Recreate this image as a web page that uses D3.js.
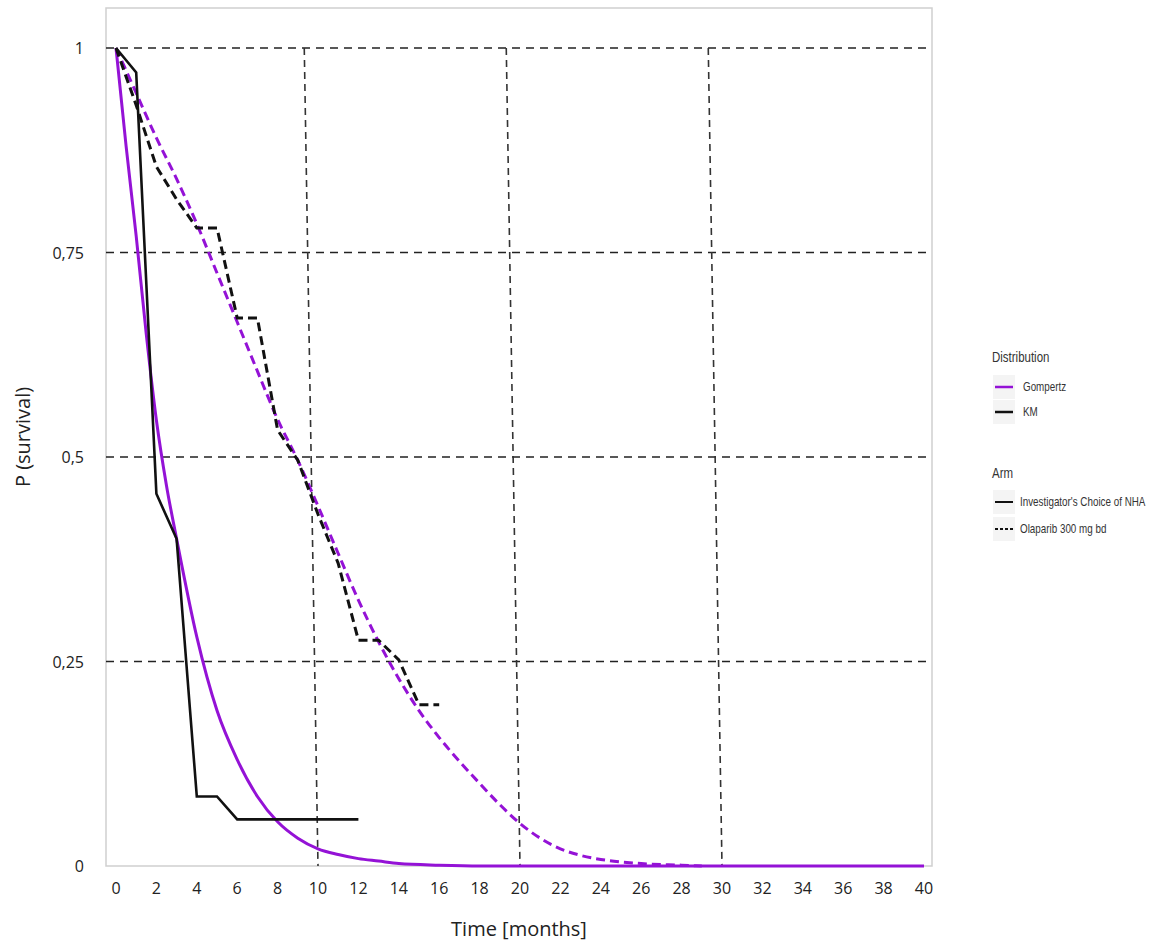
<!DOCTYPE html>
<html>
<head>
<meta charset="utf-8">
<script src="https://cdn.jsdelivr.net/npm/d3@7"></script>
<style>
  html, body { margin: 0; padding: 0; background: #fff; }
  svg { display: block; }
</style>
</head>
<body>
<svg id="chart" width="1156" height="945"></svg>
<script>
// ---- data ----
const xTicks = d3.range(0, 41, 2);
const yTicks = [0, 0.25, 0.5, 0.75, 1];
const yTickLabels = ["0", "0,25", "0,5", "0,75", "1"];
const vGrid = [10, 20, 30];

// KM, Investigator's Choice of NHA (solid black)
const kmControlT = [0, 1, 2, 3, 4, 5, 6, 12];
const kmControlS = [1, 0.97, 0.455, 0.40, 0.085, 0.085, 0.057, 0.057];

// KM, Olaparib 300 mg bd (dashed black)
const kmOlaT = [0, 1, 2, 3, 4, 5, 6, 7, 8, 9, 10, 11, 12, 13, 14, 15, 16];
const kmOlaS = [1, 0.93, 0.855, 0.815, 0.78, 0.78, 0.67, 0.67, 0.533, 0.496, 0.43, 0.37, 0.276, 0.276, 0.252, 0.197, 0.197];

// Gompertz, Investigator's Choice of NHA (solid purple)
const gompControlT = [0, 0.5, 1, 1.5, 2, 2.5, 3, 4, 5, 6, 7, 8, 9, 10, 11, 12, 13, 14, 16, 18, 40];
const gompControlS = [1, 0.88, 0.77, 0.65, 0.545, 0.465, 0.40, 0.28, 0.19, 0.13, 0.085, 0.054, 0.034, 0.021, 0.014, 0.009, 0.006, 0.003, 0.001, 0, 0];

// Gompertz, Olaparib 300 mg bd (dashed purple)
const gompOlaT = [0, 1, 2, 3, 4, 5, 6, 7, 8, 9, 10, 11, 12, 13, 14, 15, 16, 17, 18, 19, 20, 21, 22, 23, 24, 25, 26, 28, 29];
const gompOlaS = [1, 0.945, 0.89, 0.84, 0.785, 0.725, 0.665, 0.605, 0.546, 0.496, 0.44, 0.382, 0.325, 0.274, 0.229, 0.19, 0.157, 0.128, 0.101, 0.075, 0.052, 0.034, 0.021, 0.013, 0.008, 0.005, 0.003, 0.001, 0];

const legendDist = ["Gompertz", "KM"];
const legendArm = ["Investigator's Choice of NHA", "Olaparib 300 mg bd"];

// ---- layout ----
const panel = { left: 106, top: 8, right: 932, bottom: 866 };
const svg = d3.select("#chart");
const x = d3.scaleLinear().domain([0, 40]).range([116, 924]);
const y = d3.scaleLinear().domain([0, 1]).range([866, 48]);
const purple = "#9412d6";
const font = "'Open Sans', 'DejaVu Sans', sans-serif";

// panel border
svg.append("rect")
  .attr("x", panel.left).attr("y", panel.top)
  .attr("width", panel.right - panel.left).attr("height", panel.bottom - panel.top)
  .attr("fill", "none").attr("stroke", "#cfcfcf").attr("stroke-width", 1.5);

// horizontal grid lines
svg.append("g").selectAll("line").data(yTicks.filter(d => d > 0)).join("line")
  .attr("x1", panel.left).attr("x2", panel.right)
  .attr("y1", d => y(d)).attr("y2", d => y(d))
  .attr("stroke", "#222").attr("stroke-width", 1.6)
  .attr("stroke-dasharray", "8,6");

// vertical grid lines (slightly slanted as in the reference)
svg.append("g").selectAll("line").data(vGrid).join("line")
  .attr("x1", d => x(d - 0.68)).attr("x2", d => x(d))
  .attr("y1", y(1)).attr("y2", y(0))
  .attr("stroke", "#333").attr("stroke-width", 1.6)
  .attr("stroke-dasharray", "7,5");

// curves
const line = d3.line().x(d => x(d[0])).y(d => y(d[1]));
const zip = (a, b) => a.map((v, i) => [v, b[i]]);

svg.append("path").datum(zip(gompOlaT, gompOlaS))
  .attr("d", line.curve(d3.curveMonotoneX)).attr("fill", "none")
  .attr("stroke", purple).attr("stroke-width", 3).attr("stroke-dasharray", "9,5");
svg.append("path").datum(zip(gompControlT, gompControlS))
  .attr("d", line.curve(d3.curveMonotoneX)).attr("fill", "none")
  .attr("stroke", purple).attr("stroke-width", 3);
line.curve(d3.curveLinear);
svg.append("path").datum(zip(kmOlaT, kmOlaS))
  .attr("d", line).attr("fill", "none")
  .attr("stroke", "#111").attr("stroke-width", 3).attr("stroke-dasharray", "9,5");
svg.append("path").datum(zip(kmControlT, kmControlS))
  .attr("d", line).attr("fill", "none")
  .attr("stroke", "#111").attr("stroke-width", 2.6);

// x tick labels
svg.append("g").selectAll("text").data(xTicks).join("text")
  .attr("x", d => x(d)).attr("y", 894)
  .attr("text-anchor", "middle")
  .attr("font-family", font).attr("font-size", 16).attr("fill", "#222")
  .text(d => d);

// y tick labels
svg.append("g").selectAll("text").data(yTicks).join("text")
  .attr("x", 84).attr("y", d => y(d) + 6)
  .attr("text-anchor", "end")
  .attr("font-family", font).attr("font-size", 16).attr("fill", "#222")
  .text((d, i) => yTickLabels[i]);

// axis titles
svg.append("text")
  .attr("x", (panel.left + panel.right) / 2).attr("y", 936)
  .attr("text-anchor", "middle")
  .attr("font-family", font).attr("font-size", 20).attr("fill", "#222")
  .text("Time [months]");
svg.append("text")
  .attr("transform", `translate(30, ${(panel.top + panel.bottom) / 2}) rotate(-90)`)
  .attr("text-anchor", "middle")
  .attr("font-family", font).attr("font-size", 20).attr("fill", "#222")
  .text("P (survival)");

// legend
const lfont = "'Liberation Sans', Arial, sans-serif";
const squeeze = 0.82;
const lg = svg.append("g");
lg.append("text").attr("transform", `translate(992,362) scale(${squeeze},1)`)
  .attr("font-family", lfont).attr("font-size", 14).attr("fill", "#333")
  .text("Distribution");
const distColors = [purple, "#111"];
legendDist.forEach((name, i) => {
  const cy = 387 + i * 25;
  lg.append("rect").attr("x", 993).attr("y", cy - 12).attr("width", 22).attr("height", 24)
    .attr("fill", "#f4f4f4");
  lg.append("line").attr("x1", 995).attr("x2", 1013).attr("y1", cy).attr("y2", cy)
    .attr("stroke", distColors[i]).attr("stroke-width", 2.5);
  lg.append("text").attr("transform", `translate(1023,${cy + 4}) scale(${squeeze},1)`)
    .attr("font-family", lfont).attr("font-size", 12).attr("fill", "#333")
    .text(name);
});
lg.append("text").attr("transform", `translate(992,478) scale(${squeeze},1)`)
  .attr("font-family", lfont).attr("font-size", 14).attr("fill", "#333")
  .text("Arm");
const armDash = [null, "3,2"];
legendArm.forEach((name, i) => {
  const cy = 502 + i * 27;
  lg.append("rect").attr("x", 993).attr("y", cy - 12).attr("width", 22).attr("height", 24)
    .attr("fill", "#f4f4f4");
  lg.append("line").attr("x1", 995).attr("x2", 1013).attr("y1", cy).attr("y2", cy)
    .attr("stroke", "#111").attr("stroke-width", 2)
    .attr("stroke-dasharray", armDash[i]);
  lg.append("text").attr("transform", `translate(1020,${cy + 4}) scale(${squeeze},1)`)
    .attr("font-family", lfont).attr("font-size", 12).attr("fill", "#333")
    .text(name);
});
</script>
</body>
</html>
